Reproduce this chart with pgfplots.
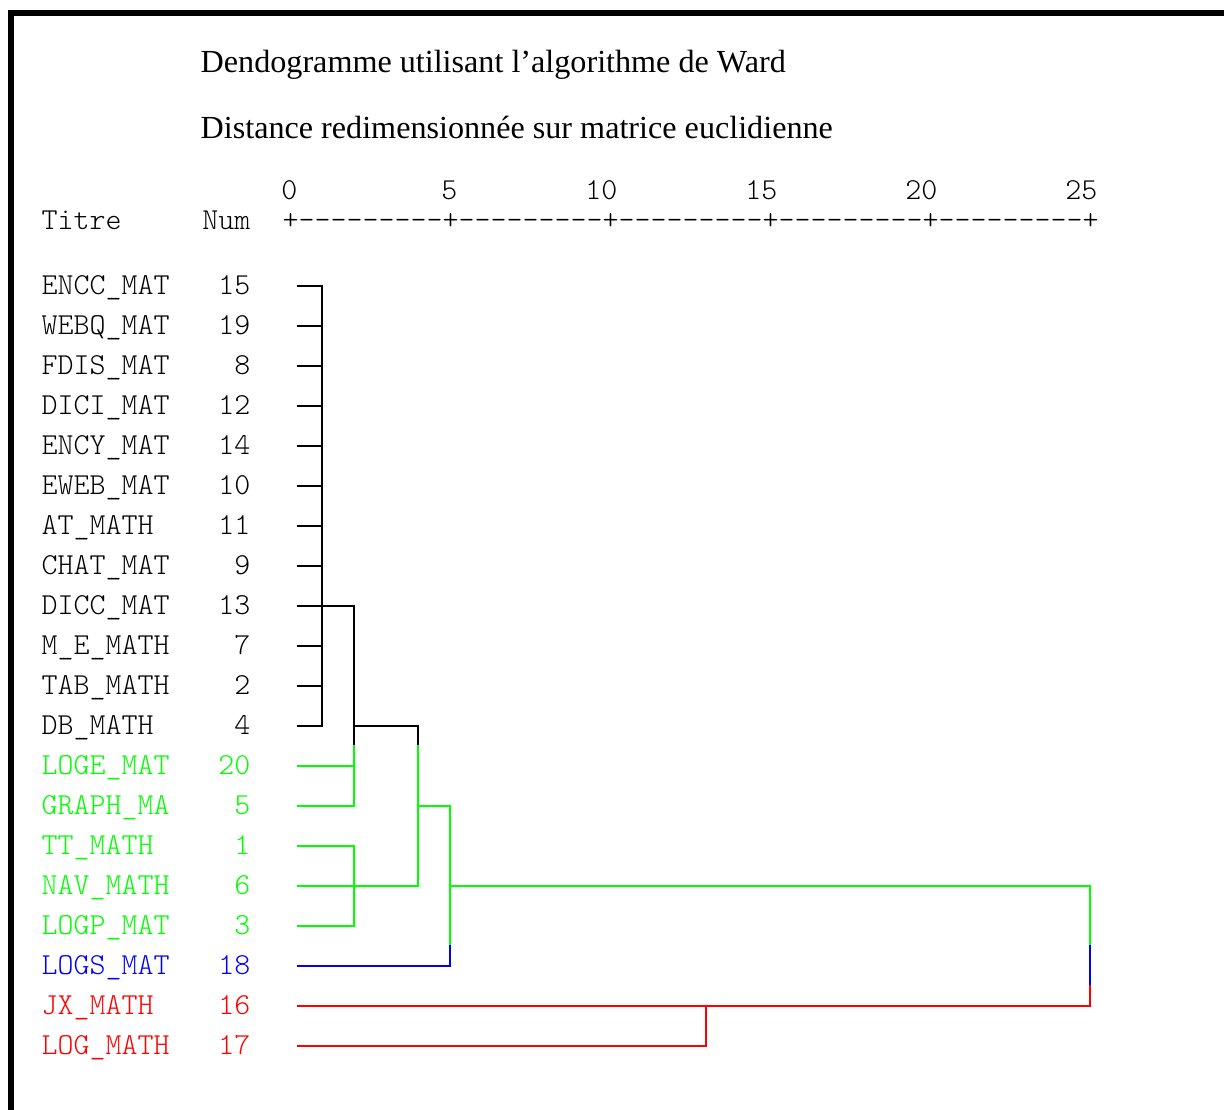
\documentclass[border=0pt]{standalone}
\usepackage{fontspec}
\setmainfont{Liberation Serif}
\newfontfamily\mono{Latin Modern Mono Light}
\usepackage{pgfplots}
\pgfplotsset{compat=1.18}
\definecolor{cgreen}{RGB}{0,255,0}
\definecolor{cblue}{RGB}{0,0,255}
\definecolor{cred}{RGB}{255,0,0}
\begin{document}
\begin{tikzpicture}[
  lab/.style={font=\mono\fontsize{8.67}{10}\selectfont, inner sep=0pt},
  ttl/.style={font=\fontsize{9.15}{11}\selectfont, inner sep=0pt, anchor=base west},
]
\begin{axis}[
  name=main,
  width=12.24cm, height=11.10cm, scale only axis,
  hide axis,
  xmin=-9.0625, xmax=29.1875,
  ymin=-6.15, ymax=21.6, y dir=reverse,
  clip=false, unbounded coords=jump,
  every axis plot/.append style={line width=0.6pt, line join=miter, line cap=rect},
]
% frame
\draw[line width=0.6mm, line cap=butt] (axis cs:-8.71875,21.6) -- (axis cs:-8.71875,-5.9);
\draw[line width=0.6mm, line cap=butt] (axis cs:-8.8125,-5.825) -- (axis cs:29.1875,-5.825);
% titles
\node[ttl] at (axis cs:-2.8125,-4.33) {Dendogramme utilisant l’algorithme de Ward};
\node[ttl] at (axis cs:-2.8125,-2.68) {Distance redimensionnée sur matrice euclidienne};
% header
\node[lab, anchor=base east] at (axis cs:0.25,-1.17) {0};
\node[lab, anchor=base east] at (axis cs:5.25,-1.17) {5};
\node[lab, anchor=base east] at (axis cs:10.25,-1.17) {10};
\node[lab, anchor=base east] at (axis cs:15.25,-1.17) {15};
\node[lab, anchor=base east] at (axis cs:20.25,-1.17) {20};
\node[lab, anchor=base east] at (axis cs:25.25,-1.17) {25};
\node[lab, anchor=base west] at (axis cs:-7.78,-0.4) {Titre};
\node[lab, anchor=base east] at (axis cs:-1.22,-0.4) {Num};
\node[lab, anchor=base west] at (axis cs:-0.25,-0.4) {+---------+---------+---------+---------+---------+};
% row labels
\node[lab, anchor=base west] at (axis cs:-7.78,1.22) {ENCC\_MAT};
\node[lab, anchor=base east] at (axis cs:-1.22,1.22) {15};
\node[lab, anchor=base west] at (axis cs:-7.78,2.22) {WEBQ\_MAT};
\node[lab, anchor=base east] at (axis cs:-1.22,2.22) {19};
\node[lab, anchor=base west] at (axis cs:-7.78,3.22) {FDIS\_MAT};
\node[lab, anchor=base east] at (axis cs:-1.22,3.22) {8};
\node[lab, anchor=base west] at (axis cs:-7.78,4.22) {DICI\_MAT};
\node[lab, anchor=base east] at (axis cs:-1.22,4.22) {12};
\node[lab, anchor=base west] at (axis cs:-7.78,5.22) {ENCY\_MAT};
\node[lab, anchor=base east] at (axis cs:-1.22,5.22) {14};
\node[lab, anchor=base west] at (axis cs:-7.78,6.22) {EWEB\_MAT};
\node[lab, anchor=base east] at (axis cs:-1.22,6.22) {10};
\node[lab, anchor=base west] at (axis cs:-7.78,7.22) {AT\_MATH};
\node[lab, anchor=base east] at (axis cs:-1.22,7.22) {11};
\node[lab, anchor=base west] at (axis cs:-7.78,8.22) {CHAT\_MAT};
\node[lab, anchor=base east] at (axis cs:-1.22,8.22) {9};
\node[lab, anchor=base west] at (axis cs:-7.78,9.22) {DICC\_MAT};
\node[lab, anchor=base east] at (axis cs:-1.22,9.22) {13};
\node[lab, anchor=base west] at (axis cs:-7.78,10.22) {M\_E\_MATH};
\node[lab, anchor=base east] at (axis cs:-1.22,10.22) {7};
\node[lab, anchor=base west] at (axis cs:-7.78,11.22) {TAB\_MATH};
\node[lab, anchor=base east] at (axis cs:-1.22,11.22) {2};
\node[lab, anchor=base west] at (axis cs:-7.78,12.22) {DB\_MATH};
\node[lab, anchor=base east] at (axis cs:-1.22,12.22) {4};
\node[lab, anchor=base west, text=cgreen] at (axis cs:-7.78,13.22) {LOGE\_MAT};
\node[lab, anchor=base east, text=cgreen] at (axis cs:-1.22,13.22) {20};
\node[lab, anchor=base west, text=cgreen] at (axis cs:-7.78,14.22) {GRAPH\_MA};
\node[lab, anchor=base east, text=cgreen] at (axis cs:-1.22,14.22) {5};
\node[lab, anchor=base west, text=cgreen] at (axis cs:-7.78,15.22) {TT\_MATH};
\node[lab, anchor=base east, text=cgreen] at (axis cs:-1.22,15.22) {1};
\node[lab, anchor=base west, text=cgreen] at (axis cs:-7.78,16.22) {NAV\_MATH};
\node[lab, anchor=base east, text=cgreen] at (axis cs:-1.22,16.22) {6};
\node[lab, anchor=base west, text=cgreen] at (axis cs:-7.78,17.22) {LOGP\_MAT};
\node[lab, anchor=base east, text=cgreen] at (axis cs:-1.22,17.22) {3};
\node[lab, anchor=base west, text=cblue] at (axis cs:-7.78,18.22) {LOGS\_MAT};
\node[lab, anchor=base east, text=cblue] at (axis cs:-1.22,18.22) {18};
\node[lab, anchor=base west, text=cred] at (axis cs:-7.78,19.22) {JX\_MATH};
\node[lab, anchor=base east, text=cred] at (axis cs:-1.22,19.22) {16};
\node[lab, anchor=base west, text=cred] at (axis cs:-7.78,20.22) {LOG\_MATH};
\node[lab, anchor=base east, text=cred] at (axis cs:-1.22,20.22) {17};
% dendrogram
\addplot[black] coordinates {
 (0.25,1) (1,1) (nan,nan) (0.25,2) (1,2) (nan,nan) (0.25,3) (1,3) (nan,nan)
 (0.25,4) (1,4) (nan,nan) (0.25,5) (1,5) (nan,nan) (0.25,6) (1,6) (nan,nan)
 (0.25,7) (1,7) (nan,nan) (0.25,8) (1,8) (nan,nan) (0.25,9) (1,9) (nan,nan)
 (0.25,10) (1,10) (nan,nan) (0.25,11) (1,11) (nan,nan) (0.25,12) (1,12) (nan,nan)
 (1,1) (1,12) (nan,nan)
 (1,9) (2,9) (2,12.5) (nan,nan)
 (2,12) (4,12) (4,12.5)
};
\addplot[cgreen] coordinates {
 (0.25,13) (2,13) (nan,nan) (0.25,14) (2,14) (nan,nan) (2,12.5) (2,14) (nan,nan)
 (0.25,15) (2,15) (2,17) (0.25,17) (nan,nan) (0.25,16) (4,16) (nan,nan)
 (4,12.5) (4,16) (nan,nan)
 (4,14) (5,14) (5,17.5) (nan,nan)
 (5,16) (25,16) (25,17.5)
};
\addplot[cblue] coordinates {
 (0.25,18) (5,18) (5,17.5) (nan,nan) (25,17.5) (25,18.5)
};
\addplot[cred] coordinates {
 (25,18.5) (25,19) (0.25,19) (nan,nan) (0.25,20) (13,20) (13,19)
};
\end{axis}
\pgfresetboundingbox
\path[use as bounding box] (main.south west) rectangle (main.north east);
\end{tikzpicture}
\end{document}
